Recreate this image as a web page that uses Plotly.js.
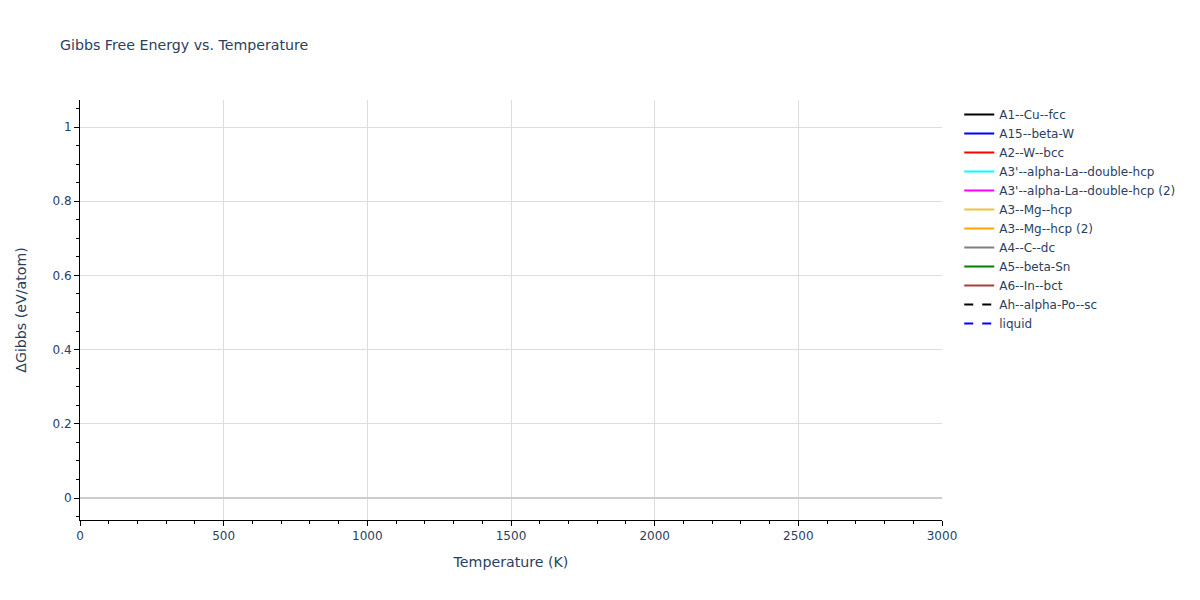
<!DOCTYPE html>
<html>
<head>
<meta charset="utf-8">
<script src="https://cdn.plot.ly/plotly-3.0.1.min.js"></script>
<style>html,body{margin:0;padding:0;background:#fff;}#chart{width:1200px;height:600px;}</style>
</head>
<body>
<div id="chart"></div>
<script>
// Phase names (legend entries); the reference shows no visible curves
const phases = ["A1--Cu--fcc", "A15--beta-W", "A2--W--bcc", "A3'--alpha-La--double-hcp",
  "A3'--alpha-La--double-hcp (2)", "A3--Mg--hcp", "A3--Mg--hcp (2)", "A4--C--dc",
  "A5--beta-Sn", "A6--In--bct", "Ah--alpha-Po--sc", "liquid"];
const temperatures = [0];      // only a placeholder point
const deltaGibbs = [null];     // no values visible in the reference
const colors = ["black", "blue", "red", "cyan", "magenta", "#f0c040", "orange", "gray",
  "green", "#b03a3a", "black", "blue"];
const dashes = ["solid", "solid", "solid", "solid", "solid", "solid", "solid", "solid",
  "solid", "solid", "dash", "dash"];

const traces = phases.map((p, i) => ({
  type: "scatter", mode: "lines", name: p,
  x: temperatures, y: deltaGibbs,
  line: {color: colors[i], dash: dashes[i], width: 2}
}));

const layout = {
  width: 1200, height: 600,
  margin: {l: 80, r: 258, t: 100, b: 80},
  paper_bgcolor: "white", plot_bgcolor: "white",
  font: {family: "DejaVu Sans, Verdana, sans-serif", size: 12, color: "#2a3f5f"},
  title: {text: "Gibbs Free Energy vs. Temperature", x: 0.05, xanchor: "left", font: {size: 14.2}},
  xaxis: {
    title: {text: "Temperature (K)", font: {size: 14.2}, standoff: 14},
    range: [0, 3000], dtick: 500,
    showline: true, linecolor: "black", linewidth: 1, mirror: false,
    ticks: "outside", tickcolor: "black", ticklen: 5,
    minor: {dtick: 100, ticks: "outside", ticklen: 3, tickcolor: "black", showgrid: false},
    showgrid: true, gridcolor: "#dddddd", zeroline: false
  },
  yaxis: {
    title: {text: "ΔGibbs (eV/atom)", font: {size: 14.2}, standoff: 22},
    range: [-0.0593, 1.0728], dtick: 0.2,
    showline: true, linecolor: "black", linewidth: 1,
    ticks: "outside", tickcolor: "black", ticklen: 5,
    minor: {dtick: 0.05, ticks: "outside", ticklen: 3, tickcolor: "black", showgrid: false},
    showgrid: true, gridcolor: "#dddddd",
    zeroline: true, zerolinecolor: "#cccccc", zerolinewidth: 2
  },
  legend: {x: 1.02, y: 1, xanchor: "left", yanchor: "top", font: {size: 12}},
  showlegend: true
};

Plotly.newPlot("chart", traces, layout, {displayModeBar: false, staticPlot: true});
</script>
</body>
</html>
